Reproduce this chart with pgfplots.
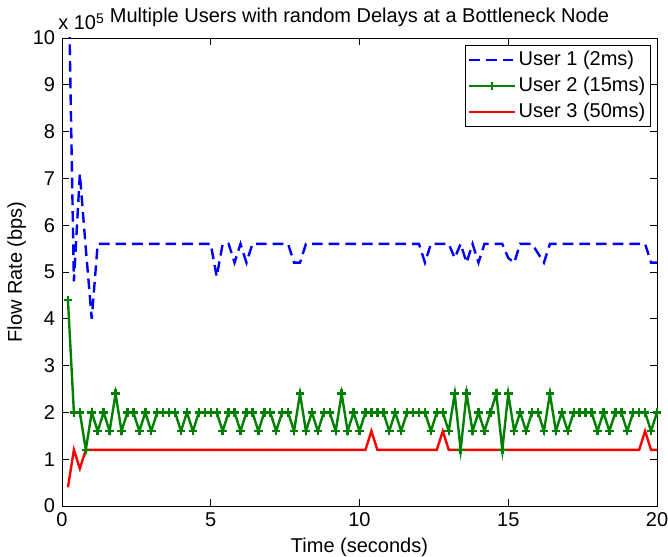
\documentclass[border=0pt]{standalone}
\usepackage{pgfplots}
\pgfplotsset{compat=1.18}
\usepackage{pgfplotstable}
\usepackage{fontspec}
\setmainfont{Liberation Sans}

% Flow rates (bps) of the three users, sampled every 0.2 s
\pgfplotstableread{
t y
0.2 1200000
0.4 480000
0.6 710000
0.8 550000
1.0 400000
1.2 560000
5.0 560000
5.2 490000
5.4 560000
5.6 560000
5.8 520000
6.0 560000
6.2 520000
6.4 560000
7.6 560000
7.8 520000
8.0 520000
8.2 560000
12.0 560000
12.2 520000
12.4 560000
13.0 560000
13.2 530000
13.4 560000
13.6 520000
13.8 560000
14.0 520000
14.2 560000
14.8 560000
15.0 530000
15.2 520000
15.4 560000
15.8 560000
16.0 540000
16.2 520000
16.4 560000
19.6 560000
19.8 520000
20.0 520000
}\userone

\pgfplotstableread{
t y
0.2 440000
0.4 200000
0.6 200000
0.8 120000
1.0 200000
1.2 160000
1.4 200000
1.6 160000
1.8 240000
2.0 160000
2.2 200000
2.4 200000
2.6 160000
2.8 200000
3.0 160000
3.2 200000
3.4 200000
3.6 200000
3.8 200000
4.0 160000
4.2 200000
4.4 160000
4.6 200000
4.8 200000
5.0 200000
5.2 200000
5.4 160000
5.6 200000
5.8 200000
6.0 160000
6.2 200000
6.4 200000
6.6 160000
6.8 200000
7.0 200000
7.2 160000
7.4 200000
7.6 200000
7.8 160000
8.0 240000
8.2 160000
8.4 200000
8.6 160000
8.8 200000
9.0 200000
9.2 160000
9.4 240000
9.6 160000
9.8 200000
10.0 160000
10.2 200000
10.4 200000
10.6 200000
10.8 200000
11.0 160000
11.2 200000
11.4 160000
11.6 200000
11.8 200000
12.0 200000
12.2 200000
12.4 160000
12.6 200000
12.8 200000
13.0 160000
13.2 240000
13.4 120000
13.6 240000
13.8 160000
14.0 200000
14.2 160000
14.4 200000
14.6 240000
14.8 120000
15.0 240000
15.2 160000
15.4 200000
15.6 160000
15.8 200000
16.0 200000
16.2 160000
16.4 240000
16.6 160000
16.8 200000
17.0 160000
17.2 200000
17.4 200000
17.6 200000
17.8 200000
18.0 160000
18.2 200000
18.4 160000
18.6 200000
18.8 200000
19.0 160000
19.2 200000
19.4 200000
19.6 200000
19.8 160000
20.0 200000
}\usertwo

\pgfplotstableread{
t y
0.2 40000
0.4 120000
0.6 80000
0.8 120000
10.2 120000
10.4 160000
10.6 120000
12.6 120000
12.8 160000
13.0 120000
19.4 120000
19.6 160000
19.8 120000
20.0 120000
}\userthree

\definecolor{mblue}{rgb}{0,0,1}
\definecolor{mgreen}{rgb}{0,0.5,0}
\definecolor{mred}{rgb}{1,0,0}

\begin{document}
\fontsize{15}{17}\selectfont
\begin{tikzpicture}
\begin{axis}[
  name=ax,
  scale only axis,
  width=446.25pt, height=351pt,
  xmin=0, xmax=20, ymin=0, ymax=1000000,
  xtick={0,5,10,15,20},
  xticklabels={0,5,10,15,20},
  ytick={0,100000,200000,300000,400000,500000,600000,700000,800000,900000,1000000},
  yticklabels={0,1,2,3,4,5,6,7,8,9,10},
  scaled y ticks=false,
  tick align=inside,
  major tick length=5pt,
  axis line style={line width=0.6pt},
  every tick/.style={black, line width=0.6pt},
  tick label style={font=\fontsize{15}{17}\selectfont},
  xlabel={Time (seconds)},
  ylabel={Flow Rate (bps)},
  label style={font=\fontsize{15}{17}\selectfont},
  xlabel style={at={(axis description cs:0.5,0)}, anchor=base, yshift=-35pt},
  ylabel style={at={(axis description cs:0,0.5)}, anchor=base, yshift=30pt},
  title={Multiple Users with random Delays at a Bottleneck Node},
  title style={at={(axis description cs:0.5,1)}, anchor=base, yshift=5.5pt, font=\fontsize{15}{17}\selectfont},
  clip=true,
  legend cell align=left,
  legend style={at={(1,1)}, anchor=north east, xshift=-4.5pt, yshift=-5.5pt,
    draw=black, line width=0.6pt, fill=white,
    font=\fontsize{15}{17}\selectfont, row sep=3.5pt, inner xsep=2pt, inner ysep=2.5pt,
    nodes={inner xsep=2pt, inner ysep=1.5pt}},
  legend image code/.code={\draw[mark repeat=2,mark phase=2,#1] plot coordinates {(0pt,0pt) (17pt,0pt) (34pt,0pt)};},
]
\addplot[mblue, line width=1.8pt, dash pattern=on 8pt off 4.5pt] table[x=t, y=y] {\userone};
\addlegendentry{User 1 (2ms)}
\addplot[mgreen, line width=1.8pt, mark=+, mark size=3.2pt, mark options={solid, line width=1.8pt}] table[x=t, y=y] {\usertwo};
\addlegendentry{User 2 (15ms)}
\addplot[mred, line width=1.8pt] table[x=t, y=y] {\userthree};
\addlegendentry{User 3 (50ms)}
\end{axis}
\node[anchor=base west, inner sep=0pt, font=\fontsize{15}{17}\selectfont] at ([xshift=-3pt,yshift=6pt]ax.north west) {x 10\textsuperscript{5}};
\pgfresetboundingbox
\path[use as bounding box] (-46.5pt,-38.25pt) rectangle (454.5pt,379.5pt);
\end{tikzpicture}
\end{document}
